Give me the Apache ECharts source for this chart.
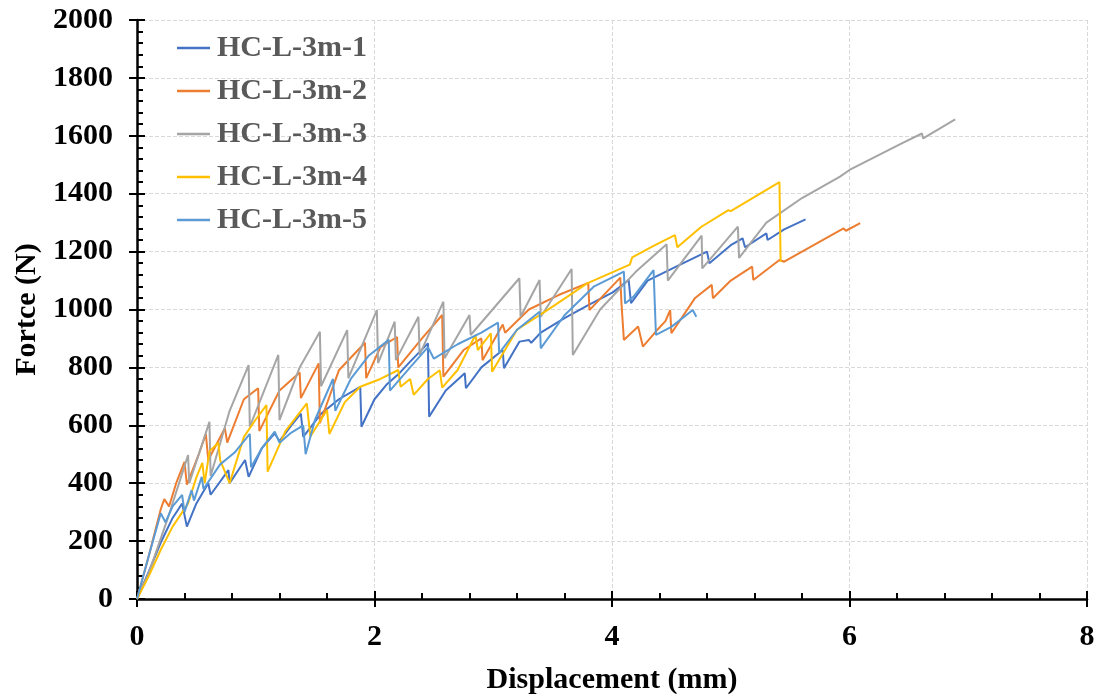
<!DOCTYPE html>
<html>
<head>
<meta charset="utf-8">
<script src="https://cdn.jsdelivr.net/npm/echarts@6/dist/echarts.min.js"></script>
<style>
html,body{margin:0;padding:0;background:#fff;}
#chart{width:1100px;height:700px;}
</style>
</head>
<body>
<div id="chart"></div>
<script>
const seriesNames = ['HC-L-3m-1','HC-L-3m-2','HC-L-3m-3','HC-L-3m-4','HC-L-3m-5'];
const seriesColors = ['#4472C4','#ED7D31','#A5A5A5','#FFC000','#5B9BD5'];

const s1 = [[0,0],[0.1,95],[0.2,195],[0.3,280],[0.38,330],[0.42,250],[0.5,330],[0.6,400],[0.62,360],[0.77,445],[0.78,400],[0.91,480],[0.94,422],[1.05,520],[1.16,572],[1.2,545],[1.3,600],[1.38,640],[1.4,560],[1.55,640],[1.7,690],[1.88,733],[1.89,595],[2.0,690],[2.1,740],[2.21,780],[2.3,820],[2.45,883],[2.46,630],[2.6,720],[2.76,780],[2.77,728],[2.9,800],[3.08,860],[3.09,797],[3.22,889],[3.3,895],[3.32,885],[3.4,920],[3.6,970],[3.8,1015],[4.01,1060],[4.14,1102],[4.16,1022],[4.3,1100],[4.57,1154],[4.8,1200],[4.82,1160],[5.0,1222],[5.1,1246],[5.12,1215],[5.3,1263],[5.31,1240],[5.45,1277],[5.63,1311]];

const s2 = [[0,0],[0.1,150],[0.2,310],[0.23,345],[0.27,320],[0.33,400],[0.4,474],[0.42,395],[0.52,500],[0.58,570],[0.6,480],[0.74,590],[0.76,540],[0.9,690],[1.02,728],[1.03,580],[1.2,720],[1.37,782],[1.38,694],[1.53,814],[1.54,607],[1.7,790],[1.92,885],[1.93,763],[2.05,870],[2.19,905],[2.2,800],[2.4,900],[2.57,981],[2.58,768],[2.75,860],[2.9,900],[2.91,825],[3.08,948],[3.1,920],[3.3,1000],[3.55,1050],[3.8,1092],[3.81,998],[4.07,1110],[4.08,1020],[4.1,895],[4.22,941],[4.26,872],[4.38,929],[4.45,960],[4.49,998],[4.5,918],[4.7,1040],[4.84,1085],[4.85,1039],[5.0,1100],[5.18,1148],[5.19,1102],[5.41,1171],[5.45,1165],[5.6,1200],[5.95,1280],[5.97,1272],[6.09,1298]];

const s3 = [[0,0],[0.1,90],[0.26,280],[0.43,497],[0.44,400],[0.61,612],[0.62,425],[0.78,650],[0.94,808],[0.95,595],[1.19,843],[1.2,618],[1.37,800],[1.54,923],[1.55,735],[1.77,929],[1.78,763],[2.02,998],[2.03,815],[2.17,958],[2.18,825],[2.37,975],[2.38,843],[2.58,1027],[2.59,832],[2.8,981],[2.81,912],[3.22,1108],[3.23,975],[3.39,1102],[3.4,975],[3.66,1140],[3.67,843],[3.9,1000],[4.2,1130],[4.46,1225],[4.47,1100],[4.755,1255],[4.76,1142],[5.06,1286],[5.07,1178],[5.3,1300],[5.6,1385],[5.92,1459],[6.0,1482],[6.44,1574],[6.61,1608],[6.62,1591],[6.89,1657]];

const s4 = [[0,0],[0.1,80],[0.2,170],[0.3,250],[0.43,330],[0.5,420],[0.55,470],[0.57,400],[0.61,510],[0.685,540],[0.7,480],[0.78,400],[0.9,560],[1.0,620],[1.09,670],[1.1,440],[1.25,580],[1.43,676],[1.46,561],[1.6,653],[1.62,570],[1.75,680],[1.88,733],[2.05,760],[2.2,791],[2.22,733],[2.3,760],[2.33,705],[2.45,760],[2.55,790],[2.57,730],[2.7,791],[2.85,912],[2.87,860],[2.98,918],[2.99,785],[3.2,930],[3.5,1010],[3.79,1090],[4.15,1155],[4.17,1180],[4.35,1220],[4.53,1257],[4.55,1215],[4.75,1285],[4.98,1343],[5.0,1340],[5.41,1440],[5.42,1165]];

const s5 = [[0,0],[0.1,150],[0.2,296],[0.24,265],[0.3,320],[0.38,360],[0.4,300],[0.46,376],[0.48,340],[0.545,422],[0.56,380],[0.7,465],[0.82,505],[0.95,570],[0.96,455],[1.05,520],[1.16,578],[1.2,540],[1.3,575],[1.4,600],[1.42,500],[1.5,620],[1.65,760],[1.67,650],[1.8,760],[1.95,840],[2.12,895],[2.13,720],[2.3,800],[2.45,870],[2.5,830],[2.7,880],[2.9,920],[3.04,955],[3.05,849],[3.2,930],[3.39,992],[3.4,866],[3.6,980],[3.85,1080],[4.1,1131],[4.11,1021],[4.18,1044],[4.35,1136],[4.37,912],[4.5,940],[4.68,998],[4.71,975]];

const allSeries = [s1, s2, s3, s4, s5];

const FONT = '"Liberation Serif","Times New Roman",serif';

const chart = echarts.init(document.getElementById('chart'));
const option = {
  animation: false,
  backgroundColor: '#ffffff',
  grid: {left: 137, right: 13, top: 20, bottom: 101, containLabel: false},
  legend: {
    orient: 'vertical', left: 172, top: 28,
    icon: 'rect', itemWidth: 33, itemHeight: 2.5, itemGap: 13,
    textStyle: {fontFamily: FONT, fontWeight: 'bold', fontSize: 30, color: '#595959', padding: [0, 0, 0, 2]},
    data: seriesNames
  },
  xAxis: [{
    type: 'value', min: 0, max: 8, interval: 2,
    name: 'Displacement (mm)', nameLocation: 'middle', nameGap: 66,
    nameTextStyle: {fontFamily: FONT, fontWeight: 'bold', fontSize: 30, color: '#000'},
    axisLine: {show: true, onZero: false, lineStyle: {color: '#000', width: 2.5}},
    axisTick: {show: true, inside: true, length: 8, lineStyle: {color: '#000', width: 2}},
    minorTick: {show: true, splitNumber: 5, length: 6, lineStyle: {color: '#000', width: 2}},
    axisLabel: {fontFamily: FONT, fontWeight: 'bold', fontSize: 30, color: '#000', margin: 23},
    splitLine: {show: true, lineStyle: {color: '#D9D9D9', type: 'dashed', width: 1}}
  }, {
    type: 'value', min: 0, max: 8, interval: 2, position: 'bottom',
    axisLine: {show: false},
    axisTick: {show: true, inside: false, length: 8, lineStyle: {color: '#000', width: 2}},
    axisLabel: {show: false}, splitLine: {show: false}
  }],
  yAxis: [{
    type: 'value', min: 0, max: 2000, interval: 200,
    name: 'Fortce (N)', nameLocation: 'middle', nameGap: 94,
    nameTextStyle: {fontFamily: FONT, fontWeight: 'bold', fontSize: 30, color: '#000'},
    axisLine: {show: true, onZero: false, lineStyle: {color: '#000', width: 2.5}},
    axisTick: {show: true, inside: true, length: 8, lineStyle: {color: '#000', width: 2}},
    minorTick: {show: true, splitNumber: 5, length: 6, lineStyle: {color: '#000', width: 2}},
    axisLabel: {fontFamily: FONT, fontWeight: 'bold', fontSize: 30, color: '#000', margin: 24,
      formatter: v => String(v)},
    splitLine: {show: true, lineStyle: {color: '#D9D9D9', type: 'dashed', width: 1}}
  }, {
    type: 'value', min: 0, max: 2000, interval: 200, position: 'left',
    axisLine: {show: false},
    axisTick: {show: true, inside: false, length: 8, lineStyle: {color: '#000', width: 2}},
    axisLabel: {show: false}, splitLine: {show: false}
  }],
  series: allSeries.map((d, i) => ({
    name: seriesNames[i], type: 'line', data: d,
    xAxisIndex: 0, yAxisIndex: 0,
    symbol: 'none', smooth: false,
    lineStyle: {color: seriesColors[i], width: 2},
    itemStyle: {color: seriesColors[i]}
  }))
};
chart.setOption(option);
</script>
</body>
</html>
